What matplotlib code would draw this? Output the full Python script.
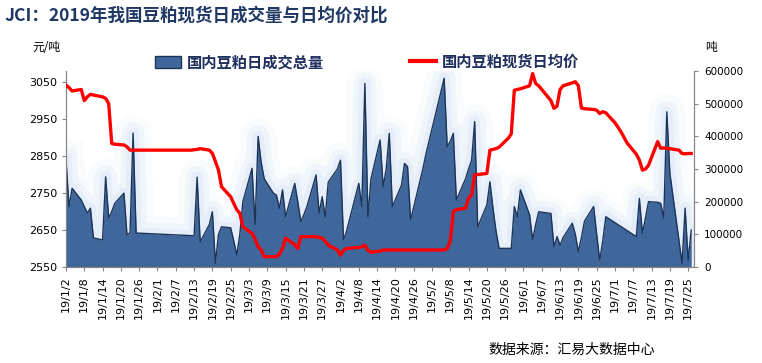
import numpy as np
import pandas as pd
import matplotlib
matplotlib.use("Agg")
import matplotlib.pyplot as plt
from matplotlib.patches import Patch
from matplotlib.lines import Line2D

plt.rcParams['font.family'] = ['DejaVu Sans', 'Noto Sans CJK SC']

# daily volume (tons), dates as m/d in 2019
vol_dates = ["1/2", "1/3", "1/4", "1/7", "1/8", "1/9", "1/10", "1/11", "1/14", "1/15", "1/16", "1/17",
             "1/18", "1/21", "1/22", "1/23", "1/24", "1/25",
             "2/12", "2/13", "2/14", "2/15", "2/18", "2/19", "2/20", "2/21", "2/22", "2/25", "2/26", "2/27",
             "2/28", "3/1", "3/4", "3/5", "3/6", "3/7", "3/8", "3/11", "3/12", "3/13", "3/14", "3/15",
             "3/18", "3/19", "3/20", "3/21", "3/22", "3/25", "3/26", "3/27", "3/28", "3/29", "4/1", "4/2",
             "4/3", "4/4", "4/8", "4/9", "4/10", "4/11", "4/12", "4/15", "4/16", "4/17", "4/18", "4/19",
             "4/22", "4/23", "4/24", "4/25", "4/29", "4/30", "5/6", "5/7", "5/8", "5/9", "5/10", "5/13",
             "5/14", "5/15", "5/16", "5/17", "5/20", "5/21", "5/22", "5/23", "5/24", "5/27", "5/28", "5/29",
             "5/30", "5/31", "6/3", "6/4", "6/5", "6/6", "6/10", "6/11", "6/12", "6/13", "6/14", "6/17",
             "6/18", "6/19", "6/20", "6/21", "6/24", "6/25", "6/26", "6/27", "6/28", "7/8", "7/9", "7/10",
             "7/11", "7/12", "7/15", "7/16", "7/17", "7/18", "7/19", "7/22", "7/23", "7/24", "7/25", "7/26"]
vol = [330, 185, 241, 205, 185, 165, 180, 89, 83, 276, 150, 170,
       195, 226, 98, 105, 410, 104,
       96, 95, 275, 77, 130, 169, 12, 100, 123, 120, 80, 37,
       100, 200, 302, 130, 400, 320, 270, 226, 220, 180, 236, 154,
       256, 200, 139, 160, 185, 282, 165, 215, 154, 260, 300, 327,
       83, 110, 256, 185, 562, 154, 270, 389, 246, 300, 409, 185,
       250, 317, 307, 144, 300, 345, 578, 368, 385, 409, 205, 270,
       300, 327, 445, 123, 190, 261, 180, 110, 57, 57, 57, 185,
       154, 236, 160, 83, 130, 169, 164, 62, 93, 67, 90, 134,
       100, 47, 90, 140, 185, 100, 21, 80, 154, 93, 210, 103,
       150, 200, 198, 195, 150, 475, 287, 80, 11, 180, 21, 113]
vol = [v * 1000 for v in vol]

# daily average spot price (yuan/ton)
price_dates = ["1/2", "1/3", "1/4", "1/7", "1/8", "1/9", "1/10", "1/11", "1/14", "1/15", "1/16", "1/17",
               "1/18", "1/21", "1/22", "1/23", "1/24", "1/25",
               "2/12", "2/13", "2/14", "2/15", "2/18", "2/19", "2/20", "2/21", "2/22", "2/25", "2/26", "2/27",
               "2/28", "3/1", "3/4", "3/5", "3/6", "3/7", "3/8", "3/11", "3/12", "3/13", "3/14", "3/15",
               "3/18", "3/19", "3/20", "3/21", "3/22", "3/25", "3/26", "3/27", "3/28", "3/29", "4/1", "4/2",
               "4/3", "4/4", "4/8", "4/9", "4/10", "4/11", "4/12", "4/15", "4/16", "4/30", "5/6", "5/7",
               "5/8", "5/9", "5/10", "5/13", "5/14", "5/15", "5/16", "5/17", "5/20", "5/21", "5/22", "5/23",
               "5/24", "5/27", "5/28", "5/29", "5/30", "5/31", "6/3", "6/4", "6/5", "6/6", "6/10", "6/11",
               "6/12", "6/13", "6/14", "6/17", "6/18", "6/19", "6/20", "6/21", "6/24", "6/25", "6/26", "6/27",
               "6/28", "7/1", "7/2", "7/3", "7/4", "7/5", "7/8", "7/9", "7/10", "7/11", "7/12", "7/15",
               "7/16", "7/17", "7/18", "7/19", "7/22", "7/23", "7/24", "7/25", "7/26"]
price = [3042, 3035, 3026, 3030, 3000, 3010, 3017, 3015, 3010, 3006, 2992, 2884,
         2882, 2880, 2875, 2866, 2866, 2866,
         2866, 2867, 2868, 2870, 2866, 2857, 2835, 2812, 2767, 2740, 2722, 2705,
         2695, 2659, 2641, 2625, 2605, 2596, 2578, 2578, 2578, 2585, 2600, 2628,
         2610, 2600, 2632, 2632, 2632, 2632, 2630, 2628, 2620, 2609, 2596, 2582,
         2595, 2600, 2603, 2605, 2609, 2595, 2590, 2593, 2596, 2596, 2596, 2600,
         2620, 2700, 2705, 2709, 2736, 2745, 2799, 2800, 2803, 2866, 2868, 2870,
         2874, 2898, 2910, 3028, 3030, 3032, 3040, 3073, 3046, 3040, 3000, 2979,
         2985, 3030, 3040, 3048, 3051, 3040, 2980, 2978, 2976, 2974, 2965, 2970,
         2967, 2940, 2928, 2915, 2900, 2885, 2855, 2839, 2812, 2815, 2825, 2889,
         2871, 2872, 2871, 2870, 2866, 2857, 2856, 2857, 2857]

vd = pd.to_datetime(["2019/" + d for d in vol_dates])
pd_ = pd.to_datetime(["2019/" + d for d in price_dates])
ticks = pd.date_range("2019-01-02", "2019-07-25", freq="6D")

fig = plt.figure(figsize=(7.62, 3.63), dpi=100)
ax1 = fig.add_axes([0.0866, 0.2645, 0.8245, 0.5399])
ax2 = ax1.twinx()

# volume area on ax1 (right axis), price on ax2 (left axis) so the line is on top
for w, a in [(26, 0.08), (16, 0.12), (8, 0.2)]:
    ax1.plot(vd, vol, color='#B4D0EE', lw=w, alpha=a, solid_joinstyle='round', zorder=2)
ax1.fill_between(vd, vol, color='#3F679C', lw=0, zorder=3)
ax1.plot(vd, vol, color='#1C3458', lw=1.0, zorder=4)

ax2.plot(pd_, price, color='#FF0000', lw=2.4, zorder=5)

ax1.yaxis.tick_right()
ax1.yaxis.set_label_position('right')
ax2.yaxis.tick_left()
ax2.yaxis.set_label_position('left')

ax1.set_ylim(0, 600000)
ax1.set_yticks(np.arange(0, 600001, 100000))
ax2.set_ylim(2550, 3080)
ax2.set_yticks(np.arange(2550, 3051, 100))

ax1.set_xlim(pd.Timestamp("2019-01-02"), pd.Timestamp("2019-07-27"))
ax1.set_xticks(ticks)
ax1.set_xticklabels([f"19/{t.month}/{t.day}" for t in ticks], rotation=90, fontsize=8)

for a in (ax1, ax2):
    a.spines['top'].set_visible(False)
    for s in ('left', 'right', 'bottom'):
        a.spines[s].set_color('#868686')
    a.tick_params(colors='#868686', labelcolor='black', length=3, width=0.8)
ax1.tick_params(axis='y', labelsize=7.5, pad=4)
ax2.tick_params(axis='y', labelsize=8, pad=3)
ax1.patch.set_visible(False)

fig.text(0.006, 0.958, "JCI：2019年我国豆粕现货日成交量与日均价对比", fontsize=12.6, fontweight='bold',
         color='#1F3864', family=['Noto Sans CJK SC', 'DejaVu Sans'], va='center')
fig.text(0.042, 0.868, "元/吨", fontsize=8.5, family=['Noto Sans CJK SC'], va='center')
fig.text(0.925, 0.868, "吨", fontsize=8.5, family=['Noto Sans CJK SC'], va='center')
fig.text(0.75, 0.036, "数据来源：汇易大数据中心", fontsize=10, family=['Noto Sans CJK SC'],
         ha='center', va='center')

handles = [Patch(facecolor='#3F679C', edgecolor='#1C3458'),
           Line2D([0], [0], color='#FF0000', lw=3)]
fig.legend(handles, ["国内豆粕日成交总量", "国内豆粕现货日均价"], loc='center left',
           bbox_to_anchor=(155 / 762, 0.829), ncol=2, frameon=False, borderpad=0, borderaxespad=0,
           handlelength=1.7, handleheight=0.8, handletextpad=0.4, columnspacing=5.6,
           prop={'family': 'Noto Sans CJK SC', 'weight': 'bold', 'size': 11},
           labelcolor='#1F2F5E')

fig.savefig("out.png", dpi=100)
